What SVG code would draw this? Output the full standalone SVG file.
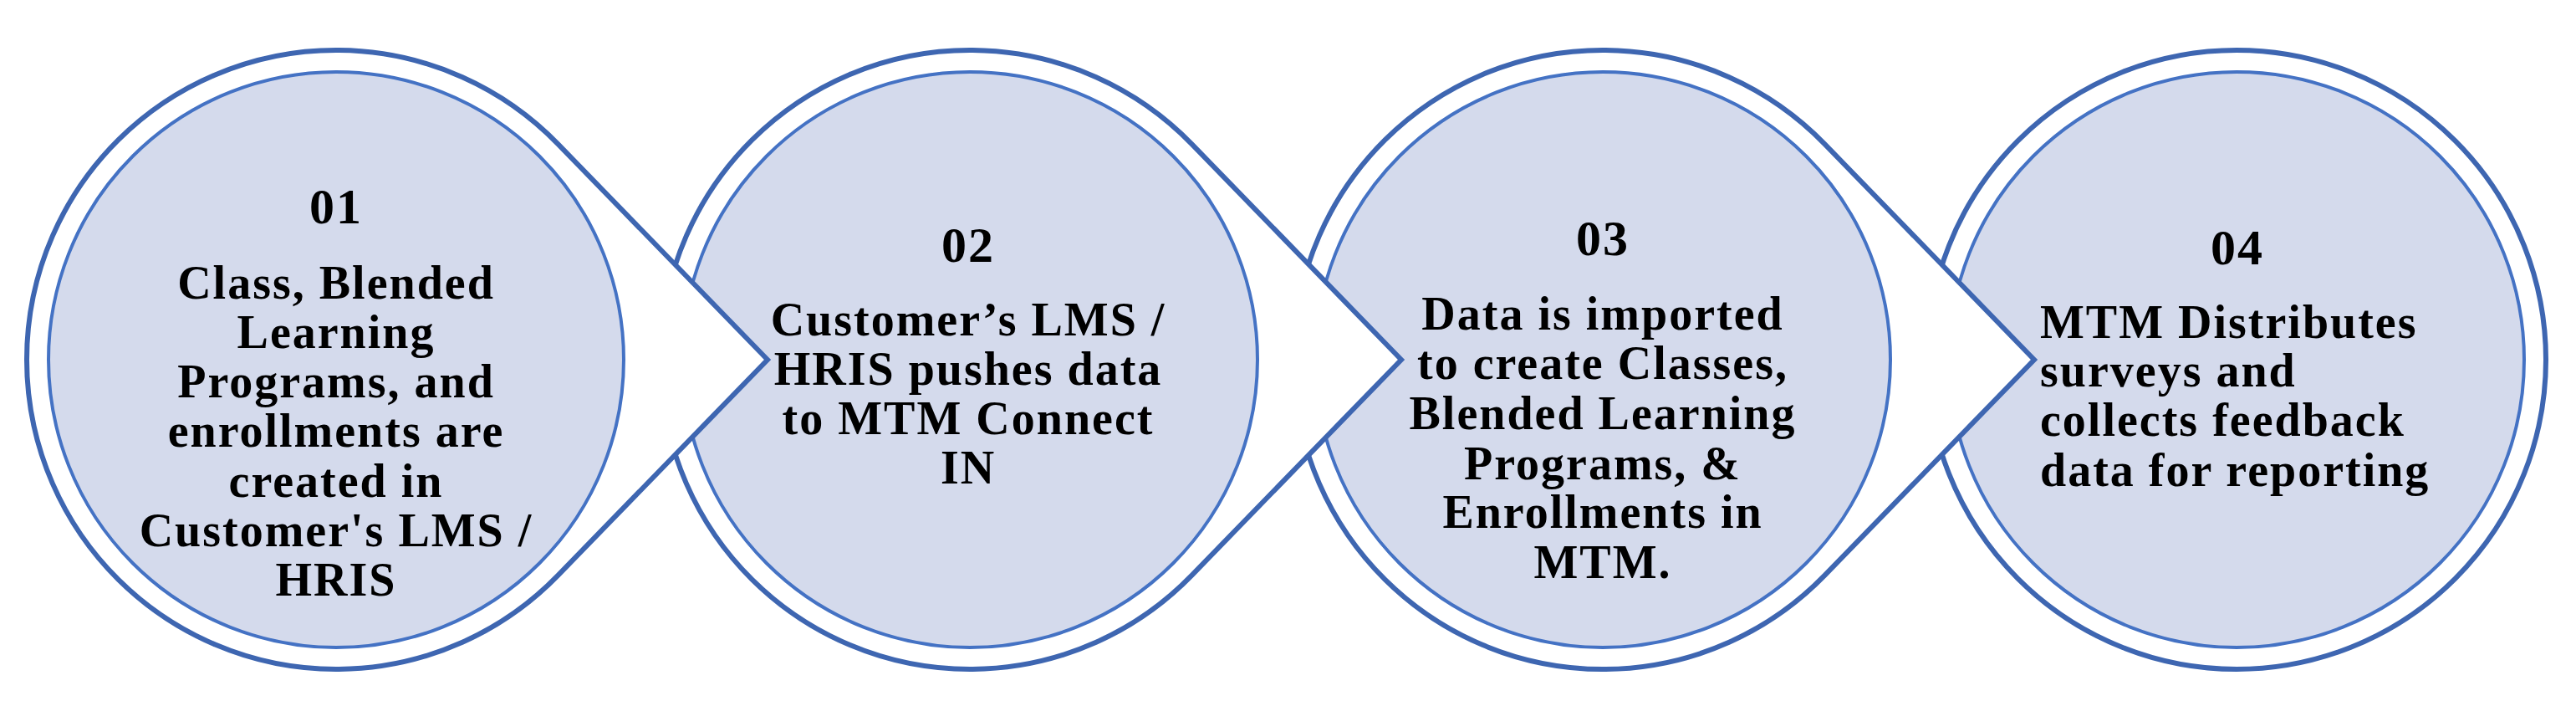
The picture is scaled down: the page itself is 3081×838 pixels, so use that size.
<svg xmlns="http://www.w3.org/2000/svg" xmlns:xlink="http://www.w3.org/1999/xlink" width="3081" height="838" viewBox="0 0 3081 838">
<style>
.outer{fill:#FFFFFF;stroke:#3E66B1;stroke-width:6;stroke-linejoin:miter;stroke-miterlimit:10}
.inner{fill:#D4DAEC;stroke:#4472C4;stroke-width:4}
.num{font-family:"Liberation Serif","Times New Roman",serif;font-weight:bold;font-size:60px;fill:#000;text-anchor:middle;letter-spacing:2px}
.body{font-family:"Liberation Serif","Times New Roman",serif;font-weight:bold;font-size:56px;fill:#000;text-anchor:middle;letter-spacing:2px}
.left{text-anchor:start}
</style>
<defs>
<path id="arrowShape" d="M516,0 L265.3,-257.9 A370,370 0 1 0 265.3,257.9 Z"/>
</defs>
<rect width="3081" height="838" fill="#FFFFFF"/>
<g id="connectors"/>
<g id="node4">
<circle class="outer" cx="2675" cy="430" r="370"/>
<circle class="inner" cx="2675" cy="430" r="344"/>
<text class="num" x="2676" y="316">04</text>
<text class="body left" x="2440"><tspan x="2440" y="404">MTM Distributes</tspan><tspan x="2440" y="462">surveys and</tspan><tspan x="2440" y="521">collects feedback</tspan><tspan x="2440" y="581">data for reporting</tspan></text>
</g>
<g id="node3">
<use xlink:href="#arrowShape" class="outer" transform="translate(1917,430)"/>
<circle class="inner" cx="1917" cy="430" r="344"/>
<text class="num" x="1917" y="305">03</text>
<text class="body"><tspan x="1917" y="394">Data is imported</tspan><tspan x="1917" y="453">to create Classes,</tspan><tspan x="1917" y="513">Blended Learning</tspan><tspan x="1917" y="573">Programs, &amp;</tspan><tspan x="1917" y="631">Enrollments in</tspan><tspan x="1917" y="691">MTM.</tspan></text>
</g>
<g id="node2">
<use xlink:href="#arrowShape" class="outer" transform="translate(1160,430)"/>
<circle class="inner" cx="1160" cy="430" r="344"/>
<text class="num" x="1158" y="313">02</text>
<text class="body"><tspan x="1158" y="401">Customer’s LMS /</tspan><tspan x="1158" y="460">HRIS pushes data</tspan><tspan x="1158" y="519">to MTM Connect</tspan><tspan x="1158" y="578">IN</tspan></text>
</g>
<g id="node1">
<use xlink:href="#arrowShape" class="outer" transform="translate(402,430)"/>
<circle class="inner" cx="402" cy="430" r="344"/>
<text class="num" x="402" y="267">01</text>
<text class="body"><tspan x="402" y="357">Class, Blended</tspan><tspan x="402" y="416">Learning</tspan><tspan x="402" y="475">Programs, and</tspan><tspan x="402" y="534">enrollments are</tspan><tspan x="402" y="594">created in</tspan><tspan x="402" y="653">Customer's LMS /</tspan><tspan x="402" y="712">HRIS</tspan></text>
</g>
</svg>
